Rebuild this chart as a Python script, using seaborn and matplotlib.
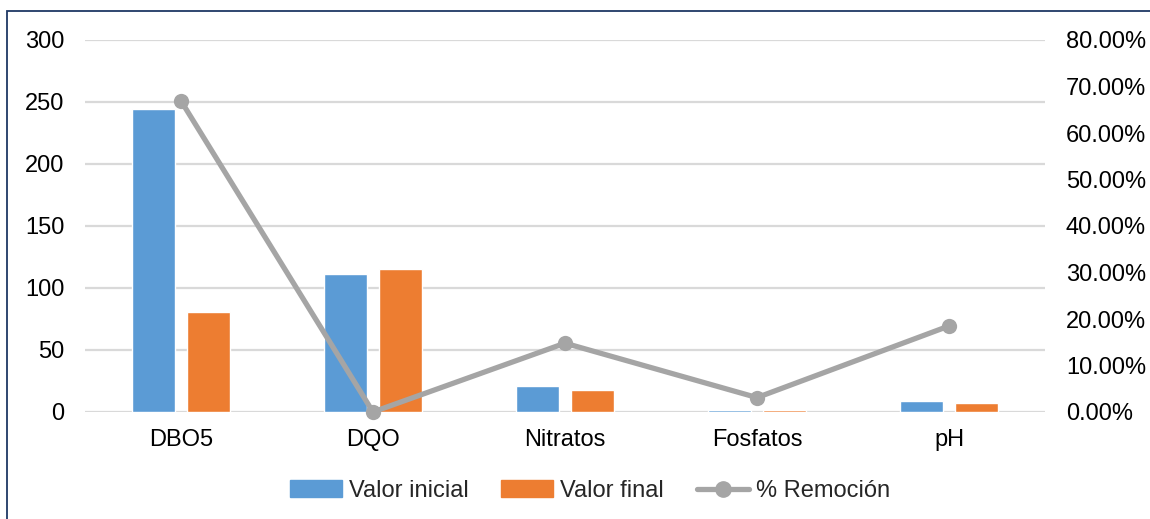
import pandas as pd
import matplotlib
matplotlib.use("Agg")
import matplotlib.pyplot as plt
import seaborn as sns
from matplotlib.patches import Rectangle
from matplotlib.lines import Line2D
from matplotlib.ticker import FuncFormatter

# data
parametros = ["DBO5", "DQO", "Nitratos", "Fosfatos", "pH"]
valor_inicial = [244, 111, 21.2, 1.6, 8.9]
valor_final = [81, 115, 18, 1.3, 7.0]
remocion = [0.669, 0.0, 0.148, 0.031, 0.185]

blue, orange, gray = "#5b9bd5", "#ed7d31", "#a5a5a5"

sns.set_theme(style="white")
plt.rcParams["font.family"] = ["Liberation Sans", "DejaVu Sans"]
fs = 17

df = pd.DataFrame({"Parametro": parametros * 2,
                   "Valor": valor_inicial + valor_final,
                   "Serie": ["Valor inicial"] * 5 + ["Valor final"] * 5})
df_rem = pd.DataFrame({"Parametro": parametros, "Remocion": remocion})

fig = plt.figure(figsize=(11.5, 5.19), dpi=100)
ax = fig.add_axes([85 / 1150, 1 - 412 / 519, 960 / 1150, 372 / 519])

sns.barplot(data=df, x="Parametro", y="Valor", hue="Serie", palette=[blue, orange],
            width=0.57, gap=0.22, saturation=1, legend=False, ax=ax)
ax.set_ylim(0, 300)
ax.set_yticks(range(0, 301, 50))
ax.set_xlim(-0.5, 4.5)
ax.yaxis.grid(True, color="#d9d9d9", linewidth=1.6)
ax.set_axisbelow(True)
ax.set(xlabel="", ylabel="")
for s in ax.spines.values():
    s.set_visible(False)
ax.tick_params(axis="both", length=0, labelsize=fs, colors="black")
ax.tick_params(axis="y", pad=15)
ax.tick_params(axis="x", pad=12)

ax2 = ax.twinx()
sns.lineplot(data=df_rem, x="Parametro", y="Remocion", color=gray, linewidth=3.8,
             marker="o", markersize=11, markeredgewidth=0, sort=False, ax=ax2)
ax2.set_ylim(0, 0.8)
ax2.set_yticks([i / 10 for i in range(9)])
ax2.yaxis.set_major_formatter(FuncFormatter(lambda v, p: f"{v * 100:.2f}%"))
ax2.set_ylabel("")
for s in ax2.spines.values():
    s.set_visible(False)
ax2.tick_params(axis="y", length=0, labelsize=fs, colors="black", pad=15)
ax2.set_xlim(-0.5, 4.5)
for line in ax2.lines:
    line.set_clip_on(False)

handles = [Rectangle((0, 0), 1, 1, color=blue),
           Rectangle((0, 0), 1, 1, color=orange),
           Line2D([], [], color=gray, linewidth=3.8, marker="o", markersize=11)]
fig.legend(handles, ["Valor inicial", "Valor final", "% Remoción"], loc="center",
           bbox_to_anchor=(590 / 1150, 1 - 491 / 519), ncol=3, frameon=False, fontsize=fs,
           handlelength=2.2, handletextpad=0.3, columnspacing=1.4)

fig.patches.append(Rectangle((7 / 1150, -0.1), 1.2, 1.1 - 11 / 519,
                             transform=fig.transFigure, fill=False,
                             edgecolor="#1f3864", linewidth=1.3))

fig.savefig("out.png", dpi=100)
